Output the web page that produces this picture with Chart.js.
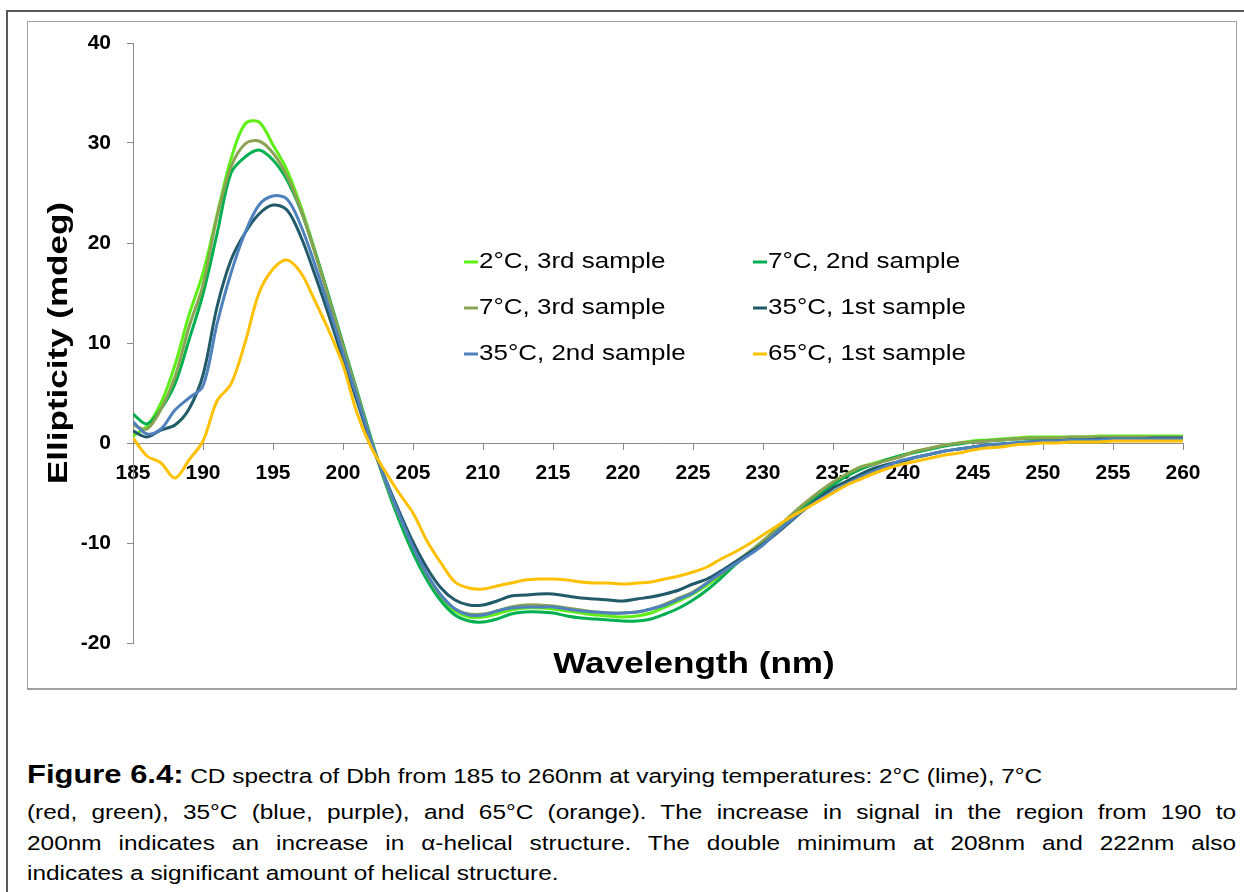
<!DOCTYPE html>
<html>
<head>
<meta charset="utf-8">
<title>CD spectra of Dbh</title>
<script src="https://cdn.jsdelivr.net/npm/chart.js@4.4.1/dist/chart.umd.min.js"></script>
<style>
  html, body { margin: 0; padding: 0; background: #fff; width: 1244px; height: 892px; overflow: hidden;
    font-family: "Liberation Sans", Arial, Helvetica, sans-serif; color: #000; }
  #frame { position: absolute; left: 6px; top: 10px; width: 1400px; height: 1000px;
    border-left: 2px solid #585858; border-top: 2px solid #585858; }
  #plotbox { position: absolute; left: 27px; top: 21px; width: 1208px; height: 666px;
    border: 1px solid #a0a0a0; border-bottom-width: 2px; }
  #wrap { position: absolute; left: 0; top: 0; width: 1244px; height: 700px; }
  /* caption lines are set in a slightly widened face */
  .cap { position: absolute; left: 27px; width: 1016px; font-size: 20.5px; line-height: 30px; white-space: nowrap;
    transform: scaleX(1.19); transform-origin: 0 50%; }
  .cap.j { text-align: justify; text-align-last: justify; white-space: normal; }
  .cap b { font-size: 26px; }
</style>
</head>
<body>
<div id="frame"></div>
<div id="plotbox"></div>
<div id="wrap"><canvas id="cd" width="1244" height="700"></canvas></div>

<div class="cap" style="top:759px"><b>Figure 6.4:</b> CD spectra of Dbh from 185 to 260nm at varying temperatures: 2°C (lime), 7°C</div>
<div class="cap j" style="top:797px">(red, green), 35°C (blue, purple), and 65°C (orange). The increase in signal in the region from 190 to</div>
<div class="cap j" style="top:828px">200nm indicates an increase in α-helical structure. The double minimum at 208nm and 222nm also</div>
<div class="cap" style="top:858px">indicates a significant amount of helical structure.</div>

<script>
// Wavelength grid (nm), one reading per nanometre
const wavelengths = [
  185,186,187,188,189,190,191,192,193,194,195,196,197,198,199,200,201,202,203,204,
  205,206,207,208,209,210,211,212,213,214,215,216,217,218,219,220,221,222,223,224,
  225,226,227,228,229,230,231,232,233,234,235,236,237,238,239,240,241,242,243,244,
  245,246,247,248,249,250,251,252,253,254,255,256,257,258,259,260
];

// Ellipticity (mdeg) for each sample
const temp2C_3rd = [
  0.7,1.7,4.0,7.8,12.8,17.0,22.8,28.4,31.9,32.1,29.8,27.3,23.6,19.2,14.5,9.8,5.0,0.3,-3.8,-7.4,
  -10.6,-13.3,-15.5,-16.8,-17.4,-17.4,-17.1,-16.7,-16.5,-16.5,-16.6,-16.8,-17.0,-17.2,-17.3,-17.4,-17.3,-17.0,-16.4,-15.8,
  -15.1,-14.2,-13.2,-12.1,-11.0,-9.9,-8.6,-7.3,-6.1,-5.0,-4.0,-3.1,-2.4,-2.0,-1.6,-1.2,-0.8,-0.5,-0.2,0.0,
  0.2,0.3,0.4,0.5,0.6,0.6,0.6,0.6,0.6,0.7,0.7,0.7,0.7,0.7,0.7,0.7
];
const temp7C_2nd = [
  2.9,1.9,3.4,5.9,10.3,14.9,20.9,27.0,28.6,29.3,28.3,26.3,23.2,19.1,14.6,9.9,5.2,0.5,-3.9,-7.7,
  -11.0,-13.7,-15.8,-17.2,-17.8,-17.9,-17.6,-17.1,-16.9,-16.9,-17.0,-17.3,-17.5,-17.6,-17.7,-17.8,-17.8,-17.6,-17.1,-16.5,
  -15.7,-14.7,-13.5,-12.2,-11.0,-9.8,-8.7,-7.5,-6.3,-5.2,-4.2,-3.3,-2.6,-2.1,-1.6,-1.2,-0.9,-0.6,-0.3,-0.1,
  0.1,0.2,0.3,0.4,0.4,0.4,0.4,0.4,0.4,0.4,0.5,0.5,0.4,0.4,0.4,0.4
];
const temp7C_3rd = [
  1.8,1.4,3.4,6.6,11.6,15.8,22.6,27.6,29.9,30.2,29.0,26.7,23.3,19.0,14.4,9.7,5.0,0.3,-3.7,-7.2,
  -10.4,-13.2,-15.3,-16.6,-17.1,-17.1,-16.8,-16.4,-16.2,-16.2,-16.3,-16.5,-16.7,-16.9,-17.0,-17.0,-16.9,-16.6,-16.1,-15.5,
  -14.9,-14.0,-13.1,-12.0,-10.9,-9.8,-8.5,-7.2,-6.0,-4.9,-3.9,-3.1,-2.4,-2.1,-1.7,-1.3,-0.8,-0.5,-0.2,0.0,
  0.1,0.2,0.3,0.4,0.5,0.5,0.5,0.6,0.6,0.6,0.6,0.6,0.6,0.6,0.6,0.6
];
const temp35C_1st = [
  1.2,0.6,1.3,1.8,3.4,6.8,13.6,18.3,21.0,22.9,23.8,23.3,20.6,16.8,12.7,8.4,4.2,0.0,-3.5,-6.8,
  -9.9,-12.5,-14.5,-15.7,-16.2,-16.2,-15.8,-15.3,-15.2,-15.1,-15.1,-15.3,-15.5,-15.6,-15.7,-15.8,-15.6,-15.4,-15.1,-14.7,
  -14.1,-13.6,-12.8,-11.9,-11.0,-10.1,-9.0,-7.8,-6.6,-5.5,-4.5,-3.8,-3.1,-2.5,-2.1,-1.8,-1.4,-1.1,-0.8,-0.6,
  -0.4,-0.2,-0.1,0.0,0.1,0.2,0.2,0.3,0.3,0.4,0.4,0.4,0.4,0.5,0.5,0.5
];
const temp35C_2nd = [
  2.1,0.9,1.4,3.3,4.5,5.7,11.9,17.0,21.0,23.8,24.7,24.4,21.7,17.8,13.5,9.0,4.6,0.2,-3.6,-7.1,
  -10.4,-13.1,-15.2,-16.6,-17.2,-17.2,-16.8,-16.5,-16.4,-16.4,-16.4,-16.6,-16.8,-16.9,-17.0,-17.0,-16.9,-16.6,-16.2,-15.6,
  -15.0,-14.0,-13.0,-12.1,-11.2,-10.2,-8.9,-7.7,-6.6,-5.7,-4.9,-4.1,-3.4,-2.8,-2.2,-1.7,-1.4,-1.1,-0.8,-0.6,
  -0.4,-0.2,-0.1,0.0,0.1,0.2,0.2,0.3,0.3,0.3,0.4,0.4,0.4,0.4,0.4,0.4
];
const temp65C_1st = [
  0.5,-1.3,-2.0,-3.5,-1.7,0.2,4.2,5.9,10.0,15.0,17.4,18.3,17.0,14.2,11.2,7.8,3.0,-0.4,-2.8,-5.0,
  -7.0,-9.8,-12.0,-13.9,-14.5,-14.6,-14.3,-14.0,-13.7,-13.6,-13.6,-13.7,-13.9,-14.0,-14.0,-14.1,-14.0,-13.9,-13.6,-13.3,
  -12.9,-12.4,-11.6,-10.9,-10.1,-9.2,-8.3,-7.4,-6.6,-5.8,-5.0,-4.2,-3.6,-3.0,-2.5,-2.1,-1.8,-1.5,-1.2,-1.0,
  -0.7,-0.5,-0.4,-0.2,-0.1,0.0,0.0,0.1,0.1,0.1,0.2,0.2,0.2,0.2,0.2,0.2
];

const seriesLabels = ['2°C, 3rd sample', '7°C, 2nd sample', '7°C, 3rd sample',
                      '35°C, 1st sample', '35°C, 2nd sample', '65°C, 1st sample'];
const seriesValues = [temp2C_3rd, temp7C_2nd, temp7C_3rd, temp35C_1st, temp35C_2nd, temp65C_1st];
const seriesColors = ['#5ef015', '#00b050', '#8aa352', '#215a68', '#4f81bd', '#ffc000'];

const xTicks = [185,190,195,200,205,210,215,220,225,230,235,240,245,250,255,260];
const yTicks = [-20,-10,0,10,20,30,40];

const FONT = '"Liberation Sans", Arial, Helvetica, sans-serif';
const AXIS_GREY = '#8a8a8a';

// Draw text widened along its own direction
function stretchedText(ctx, text, x, y, sx, rotation) {
  ctx.save();
  ctx.translate(x, y);
  if (rotation) ctx.rotate(rotation);
  ctx.scale(sx, 1);
  ctx.fillText(text, 0, 0);
  ctx.restore();
}

// Axis titles and the two-column legend placed inside the plot
const annotations = {
  id: 'annotations',
  afterDraw(chart) {
    const ctx = chart.ctx;
    ctx.save();
    ctx.fillStyle = '#000';
    ctx.textBaseline = 'middle';
    ctx.textAlign = 'center';

    ctx.font = 'bold 30px ' + FONT;
    stretchedText(ctx, 'Wavelength (nm)', 694, 665, 1.17, 0);

    ctx.font = 'bold 28px ' + FONT;
    stretchedText(ctx, 'Ellipticity (mdeg)', 59, 343, 1.25, -Math.PI / 2);

    ctx.font = '22px ' + FONT;
    ctx.textAlign = 'left';
    const colX = [464, 753];
    const rowY = [262, 308, 354];
    chart.data.datasets.forEach((ds, i) => {
      const x = colX[i % 2];
      const y = rowY[Math.floor(i / 2)];
      ctx.strokeStyle = ds.borderColor;
      ctx.lineWidth = 3;
      ctx.beginPath();
      ctx.moveTo(x, y);
      ctx.lineTo(x + 14, y);
      ctx.stroke();
      stretchedText(ctx, ds.label, x + 15, y, 1.18, 0);
    });
    ctx.restore();
  }
};

const datasets = seriesLabels.map((label, i) => ({
  label: label,
  data: seriesValues[i].map((v, k) => ({ x: wavelengths[k], y: v })),
  borderColor: seriesColors[i],
  backgroundColor: seriesColors[i],
  borderWidth: 3,
  pointRadius: 0,
  fill: false,
  tension: 0.33,
  order: seriesLabels.length - i
}));

new Chart(document.getElementById('cd'), {
  type: 'line',
  data: { datasets: datasets },
  options: {
    responsive: false,
    animation: false,
    events: [],
    layout: { padding: { left: 0, top: 43, right: 61, bottom: 57 } },
    plugins: { legend: { display: false }, tooltip: { enabled: false }, title: { display: false } },
    scales: {
      x: {
        type: 'linear',
        position: { y: 0 },
        min: xTicks[0],
        max: xTicks[xTicks.length - 1],
        afterBuildTicks(scale) { scale.ticks = xTicks.map(v => ({ value: v })); },
        ticks: { color: '#000', padding: 12, maxRotation: 0, autoSkip: false,
                 font: { family: FONT, size: 21, weight: 'bold' } },
        grid: { drawOnChartArea: false, drawTicks: true, tickLength: 6, tickColor: AXIS_GREY, tickWidth: 1 },
        border: { display: true, color: AXIS_GREY, width: 1 }
      },
      y: {
        type: 'linear',
        position: 'left',
        min: yTicks[0],
        max: yTicks[yTicks.length - 1],
        afterBuildTicks(scale) { scale.ticks = yTicks.map(v => ({ value: v })); },
        afterFit(scale) { scale.width = 133; },
        ticks: { color: '#000', padding: 16, autoSkip: false,
                 font: { family: FONT, size: 21, weight: 'bold' } },
        grid: { drawOnChartArea: false, drawTicks: true, tickLength: 6, tickColor: AXIS_GREY, tickWidth: 1 },
        border: { display: true, color: AXIS_GREY, width: 1 }
      }
    }
  },
  plugins: [annotations]
});
</script>
</body>
</html>
